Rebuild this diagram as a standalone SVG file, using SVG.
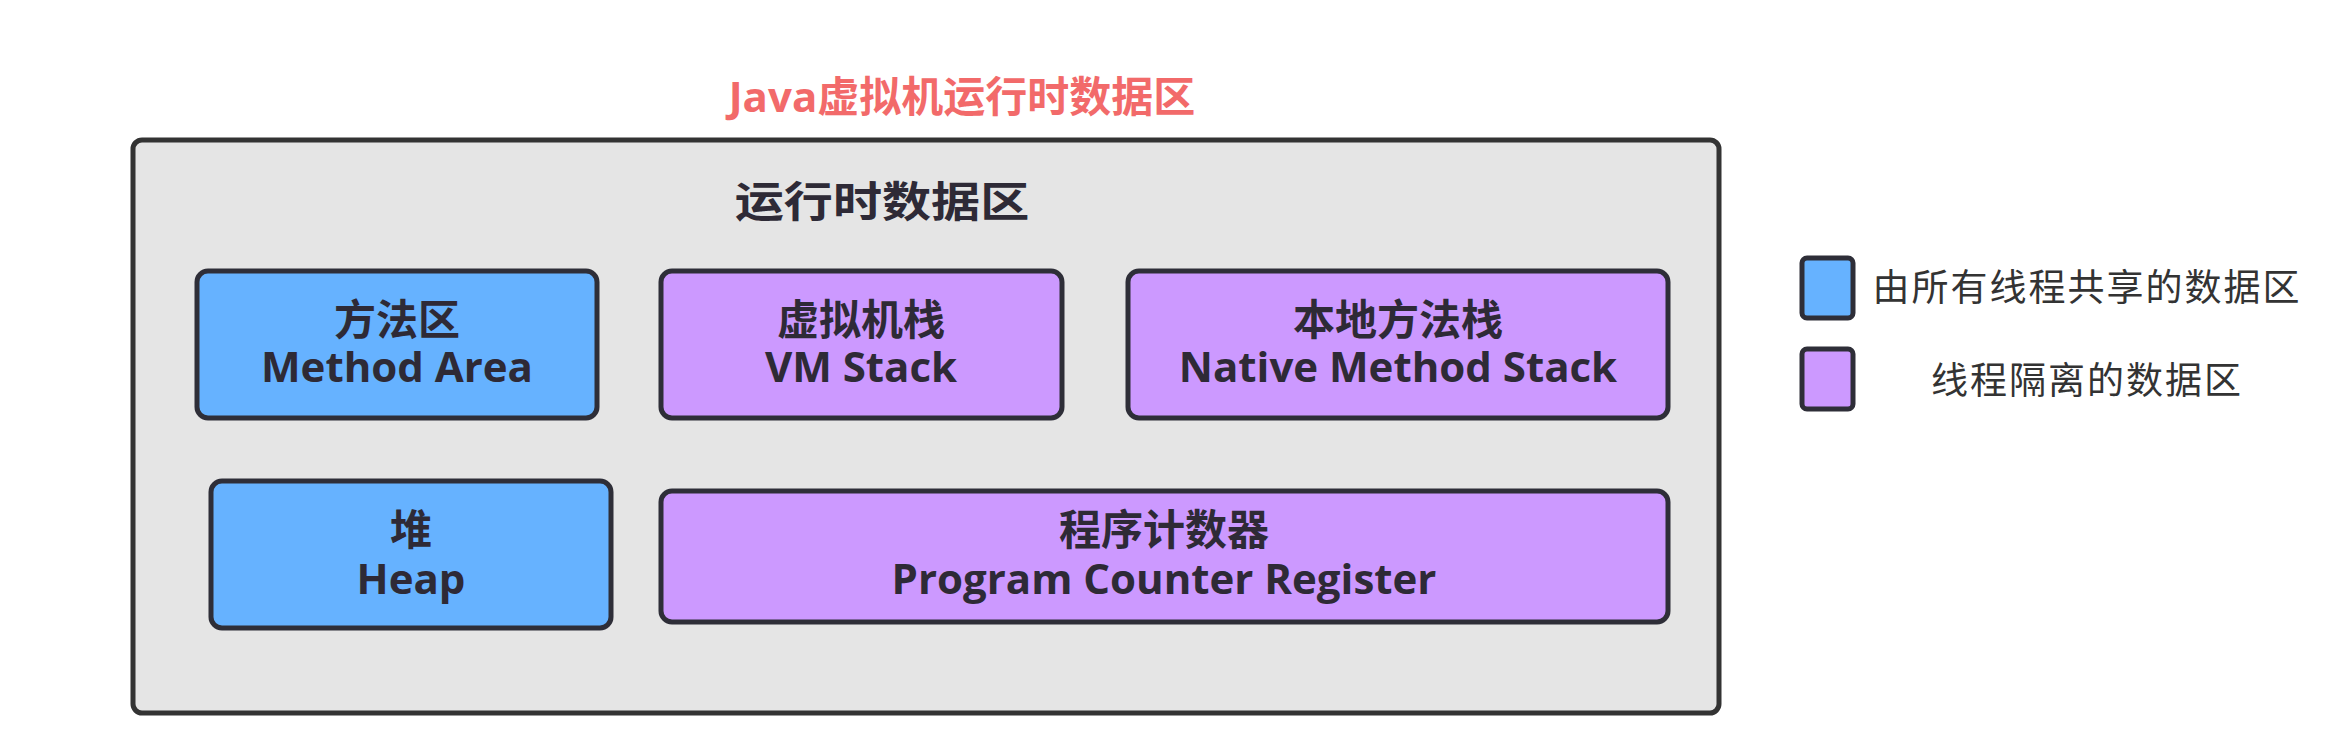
<svg xmlns="http://www.w3.org/2000/svg" width="2340" height="756" viewBox="0 0 2340 756">
<style>
.shared{fill:#66B2FF;stroke:#2E2E38;stroke-width:5}
.private{fill:#CC99FF;stroke:#2E2E38;stroke-width:5}
.cn{font-family:"Noto Sans CJK SC",sans-serif;font-weight:bold;font-size:42px;fill:#2E2A36;text-anchor:middle}
.en{font-family:"Open Sans","Noto Sans CJK SC",sans-serif;font-weight:bold;font-size:42px;fill:#2E2A36;text-anchor:middle}
.leg{font-family:"Noto Sans CJK SC",sans-serif;font-size:37px;fill:#333;text-anchor:middle;letter-spacing:2px}
</style>
<rect width="2340" height="756" fill="#FFFFFF"/>
<text id="title" x="962" y="112" font-family="'Open Sans','Noto Sans CJK SC',sans-serif" font-weight="bold" font-size="42" fill="#F26A6A" text-anchor="middle">Java虚拟机运行时数据区</text>
<g id="container">
<rect x="133" y="140" width="1586" height="573" rx="9" fill="#E5E5E5" stroke="#333" stroke-width="5"/>
<text transform="translate(882,217) scale(1.17,1)" x="0" y="0" class="cn" font-size="48">运行时数据区</text>
</g>
<g id="method-area">
<rect x="197" y="271" width="400" height="147" rx="11" class="shared"/>
<text x="397" y="335" class="cn">方法区</text>
<text x="397" y="382" class="en">Method Area</text>
</g>
<g id="vm-stack">
<rect x="661" y="271" width="401" height="147" rx="11" class="private"/>
<text x="861" y="335" class="cn">虚拟机栈</text>
<text x="861" y="382" class="en">VM Stack</text>
</g>
<g id="native-method-stack">
<rect x="1128" y="271" width="540" height="147" rx="11" class="private"/>
<text x="1398" y="335" class="cn">本地方法栈</text>
<text x="1398" y="382" class="en">Native Method Stack</text>
</g>
<g id="heap">
<rect x="211" y="481" width="400" height="147" rx="11" class="shared"/>
<text x="411" y="545" class="cn">堆</text>
<text x="411" y="594" class="en">Heap</text>
</g>
<g id="program-counter-register">
<rect x="661" y="491" width="1007" height="131" rx="11" class="private"/>
<text x="1164" y="545" class="cn">程序计数器</text>
<text x="1164" y="594" class="en">Program Counter Register</text>
</g>
<g id="legend-shared">
<rect x="1802" y="258" width="51" height="60" rx="5" class="shared"/>
<text x="2087" y="301" class="leg">由所有线程共享的数据区</text>
</g>
<g id="legend-private">
<rect x="1802" y="349" width="51" height="60" rx="5" class="private"/>
<text x="2087" y="394" class="leg">线程隔离的数据区</text>
</g>
<g id="connectors"></g>
</svg>
